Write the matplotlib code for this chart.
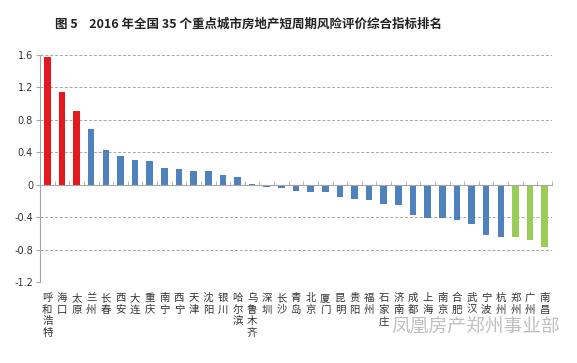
import numpy as np
import matplotlib
matplotlib.use('Agg')
import matplotlib.pyplot as plt

plt.rcParams['font.family'] = ['Noto Sans CJK SC', 'DejaVu Sans']

cities = ['呼和浩特', '海口', '太原', '兰州', '长春', '西安', '大连', '重庆', '南宁', '西宁',
          '天津', '沈阳', '银川', '哈尔滨', '乌鲁木齐', '深圳', '长沙', '青岛', '北京', '厦门',
          '昆明', '贵阳', '福州', '石家庄', '济南', '成都', '上海', '南京', '合肥', '武汉',
          '宁波', '杭州', '郑州', '广州', '南昌']
values = [1.58, 1.14, 0.905, 0.69, 0.43, 0.35, 0.31, 0.29, 0.21, 0.20,
          0.17, 0.17, 0.12, 0.09, 0.015, -0.03, -0.04, -0.08, -0.085, -0.085,
          -0.15, -0.18, -0.19, -0.24, -0.255, -0.37, -0.41, -0.415, -0.435, -0.48,
          -0.625, -0.645, -0.65, -0.68, -0.765]
groups = ['high'] * 3 + ['mid'] * 29 + ['low'] * 3
group_colors = {'high': '#E3191F', 'mid': '#4F81BD', 'low': '#9BCB59'}
yticks = [-1.2, -0.8, -0.4, 0, 0.4, 0.8, 1.2, 1.6]
ytick_labels = ['-1.2', '-0.8', '-0.4', '0', '0.4', '0.8', '1.2', '1.6']

fig = plt.figure(figsize=(5.77, 3.63), dpi=100)
ax = fig.add_axes([0.0693, 0.2231, 0.8874, 0.6254])

x = np.arange(len(cities))
ax.bar(x, values, width=0.45, color=[group_colors[g] for g in groups], zorder=3)

ax.set_xlim(-0.5, len(cities) - 0.5)
ax.set_ylim(-1.2, 1.6)
ax.set_yticks(yticks)
ax.set_yticklabels(ytick_labels, family=['DejaVu Sans'], fontsize=7, color='#333333')
for y in yticks:
    if y != 0:
        ax.axhline(y, color='#A6A6A6', lw=0.7, ls=(0, (3, 2)), zorder=1)

for s in ['top', 'right']:
    ax.spines[s].set_visible(False)
ax.spines['left'].set_color('#A6A6A6')
ax.spines['left'].set_linewidth(0.8)
ax.spines['bottom'].set_position(('data', 0))
ax.spines['bottom'].set_color('#A6A6A6')
ax.spines['bottom'].set_linewidth(0.8)
ax.spines['bottom'].set_zorder(4)

ax.set_xticks(x)
ax.set_xticklabels(['\n'.join(c) for c in cities], fontsize=7.5, color='#333333',
                   linespacing=1.2, va='top')
ax.set_xticks(np.arange(-0.5, len(cities), 1), minor=True)
ax.tick_params(axis='x', which='major', length=0, pad=78)
ax.tick_params(axis='x', which='minor', direction='in', length=3, color='#A6A6A6')
ax.tick_params(axis='y', length=3, color='#A6A6A6', pad=2)

fig.text(55 / 577, 1 - 24 / 363, '图 5    2016 年全国 35 个重点城市房地产短周期风险评价综合指标排名',
         fontsize=9, fontweight='bold', va='center', ha='left', color='#222222')
fig.text(1 - 17 / 577, 1 - 327 / 363, '凤凰房产郑州事业部', fontsize=13.5, ha='right',
         va='center', color='#B0B0B0', alpha=0.8)

fig.savefig('out.png', dpi=100)
